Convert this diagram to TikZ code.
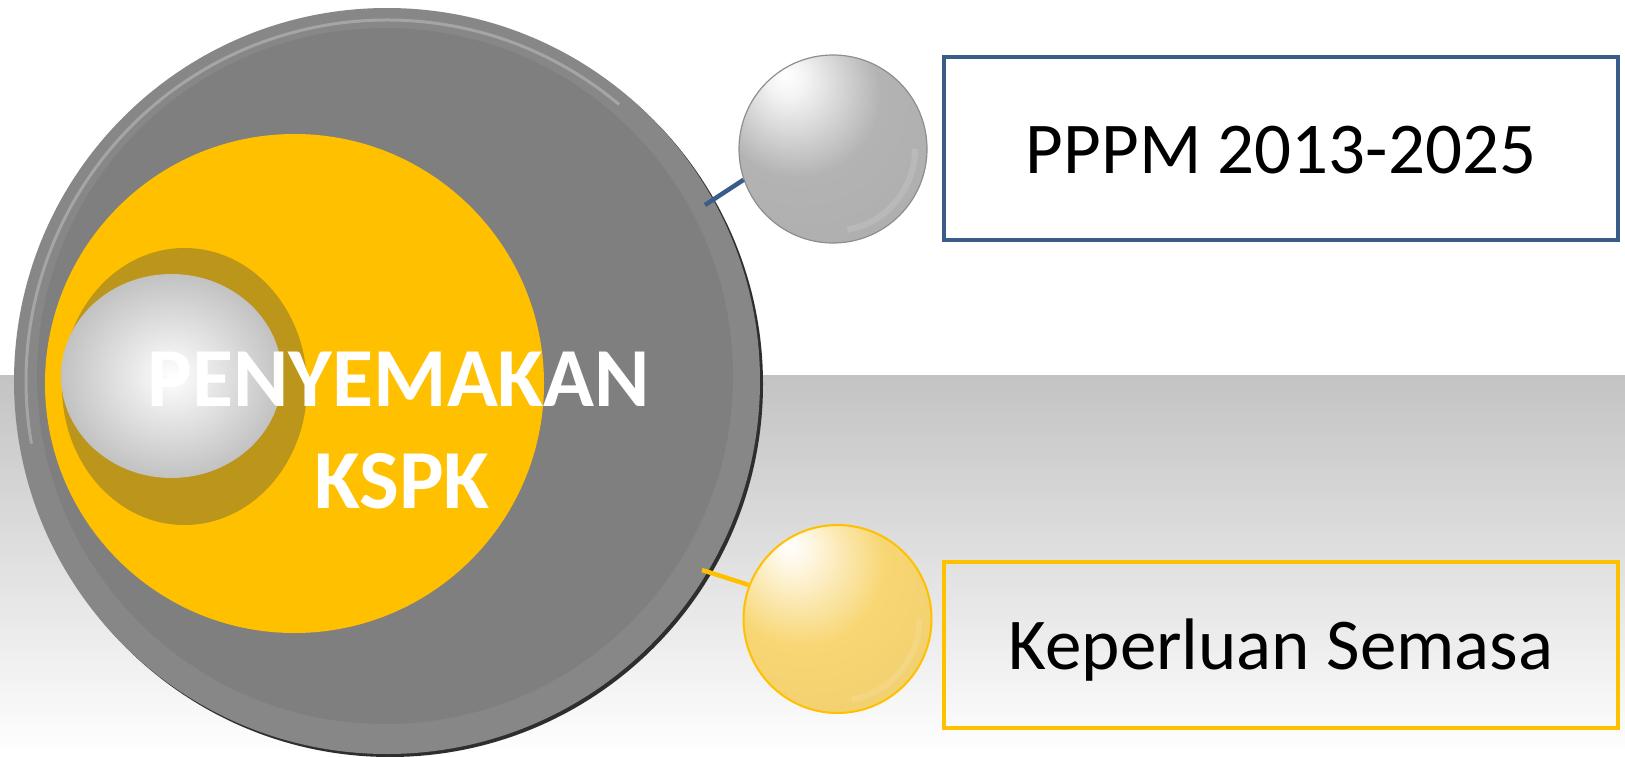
\documentclass[tikz,border=0pt]{standalone}
\usepackage{fontspec}
\setmainfont{Carlito}
\usetikzlibrary{shapes.geometric,calc}

\definecolor{ringgray}{HTML}{878787}
\definecolor{innergray}{HTML}{7F7F7F}
\definecolor{gold}{HTML}{FFC000}
\definecolor{olivegold}{HTML}{BC951B}
\definecolor{navy}{HTML}{385D8A}
\definecolor{bgtop}{HTML}{C3C3C3}
\definecolor{bgmid}{HTML}{EDEDED}
\definecolor{sphgray}{HTML}{B3B3B3}
\definecolor{sphgrayedge}{HTML}{8E8E8E}
\definecolor{sphyel}{HTML}{F8D673}
\definecolor{sphyeledge}{HTML}{E2BC4E}
\definecolor{innersphedge}{HTML}{868686}
\definecolor{rimdark}{HTML}{2E2E2E}

\pgfdeclareradialshading{bigrim}{\pgfpoint{0bp}{0bp}}{color(0bp)=(ringgray); color(46.5bp)=(ringgray); color(48.6bp)=(ringgray!80!black); color(50bp)=(ringgray!50!black); color(52bp)=(ringgray!50!black)}
\pgfdeclareradialshading{innerball}{\pgfpoint{0bp}{0bp}}{color(0bp)=(white); color(6bp)=(white!94!black); color(50bp)=(innersphedge); color(60bp)=(innersphedge)}
\pgfdeclareradialshading{grayball}{\pgfpoint{-13bp}{20bp}}{color(0bp)=(white); color(5bp)=(white!85!sphgray); color(22bp)=(sphgray); color(58bp)=(sphgray!95!black); color(68bp)=(sphgrayedge); color(80bp)=(sphgrayedge)}
\pgfdeclareradialshading{yelball}{\pgfpoint{-13bp}{20bp}}{color(0bp)=(white); color(5bp)=(white!80!sphyel); color(22bp)=(sphyel); color(58bp)=(sphyel!94!black); color(68bp)=(sphyeledge); color(80bp)=(sphyeledge)}

\begin{document}
\begin{tikzpicture}[x=1pt,y=-1pt,
  sphere/.style={circle, inner sep=0pt, minimum size=188pt},
  labelbox/.style={rectangle, line width=4pt, inner sep=0pt, minimum width=674pt,
     text height=49pt, text depth=0pt, font=\fontsize{73pt}{88pt}\selectfont},
  link/.style={line width=4.5pt},
  title/.style={text=white, inner sep=0pt, anchor=base, font=\bfseries\fontsize{84pt}{101pt}\selectfont}
]
\useasboundingbox (0,0) rectangle (1625,757);
% background
\fill[white] (0,0) rectangle (1625,375);
\shade[top color=bgtop, middle color=bgmid, bottom color=white] (0,375) rectangle (1625,757);

% big disc
\fill[rimdark] (390,384) circle[radius=373pt];
\node[circle, inner sep=0pt, minimum size=746pt, shading=bigrim] (big) at (387,381) {};
\fill[innergray] (385,376) circle[radius=348pt];
\draw[white, opacity=0.25, line width=3pt] ($(big.center)+(50:361pt)$) arc[start angle=50, end angle=190, radius=361pt];

% yellow disc, olive shadow, core sphere
\node[circle, inner sep=0pt, minimum size=499pt, fill=gold] (yel) at (294.5,383.5) {};
\node[ellipse, inner sep=0pt, minimum width=245pt, minimum height=277pt, fill=olivegold] (shadow) at (184.5,386.5) {};
\node[ellipse, inner sep=0pt, minimum width=221pt, minimum height=204pt, shading=innerball] (core) at (171.5,376) {};

\node[title] (t1) at (399,406) {PENYEMAKAN};
\node[title] (t2) at (402,508) {KSPK};

% right side
\node[sphere, shading=grayball, draw=sphgrayedge, line width=1.2pt] (s1) at (833,149) {};
\draw[white, opacity=0.12, line width=6pt] ($(s1.center)+(-80:82pt)$) arc[start angle=-80, end angle=0, radius=82pt];
\node[sphere, shading=yelball, draw=gold, line width=2pt] (s2) at (837.5,619) {};
\draw[white, opacity=0.12, line width=6pt] ($(s2.center)+(-80:82pt)$) arc[start angle=-80, end angle=0, radius=82pt];

\node[labelbox, draw=navy, minimum height=183pt] (b1) at (1281,148.5) {PPPM 2013-2025};
\node[labelbox, draw=gold, minimum height=166pt] (b2) at (1281,645) {Keperluan Semasa};

\coordinate (c1) at (705,205);
\coordinate (c2) at (702,570);
\draw[link, navy] (c1) -- (s1.199);
\draw[link, gold] (c2) -- (s2.159);
\end{tikzpicture}
\end{document}
